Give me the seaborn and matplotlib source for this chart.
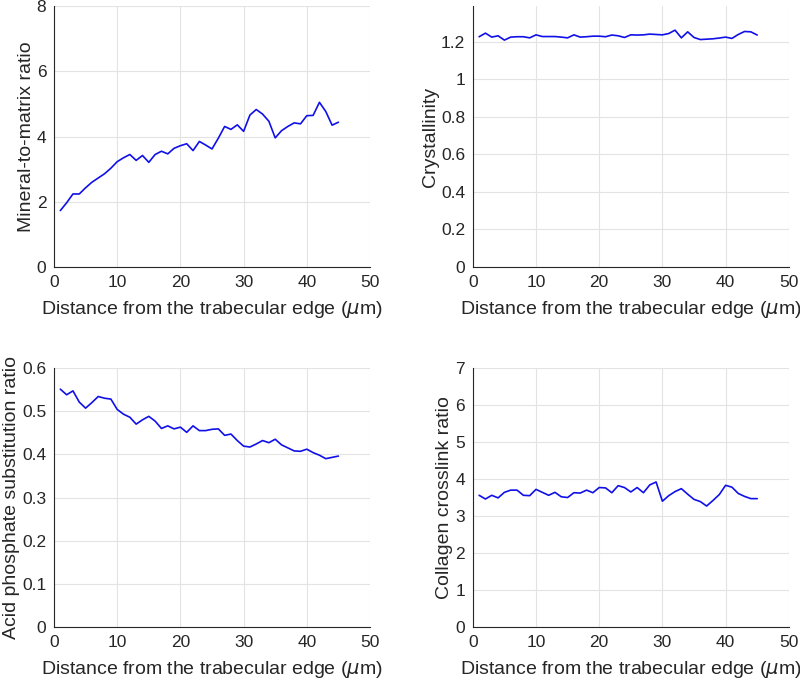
import numpy as np
import pandas as pd
import matplotlib
matplotlib.use("Agg")
import matplotlib.pyplot as plt
import seaborn as sns

# Distance from the trabecular edge (um), one value per micron
distance = list(range(1, 46))

mineral_to_matrix = [1.73, 1.97, 2.24, 2.24, 2.43, 2.60, 2.73, 2.86, 3.03, 3.23,
                     3.35, 3.45, 3.27, 3.42, 3.21, 3.45, 3.55, 3.47, 3.64, 3.72,
                     3.78, 3.57, 3.85, 3.74, 3.62, 3.95, 4.31, 4.22, 4.36, 4.16,
                     4.66, 4.83, 4.69, 4.47, 3.96, 4.18, 4.31, 4.42, 4.39, 4.64,
                     4.65, 5.05, 4.77, 4.35, 4.44]

crystallinity = [1.227, 1.246, 1.225, 1.232, 1.209, 1.225, 1.227, 1.227, 1.221, 1.237,
                 1.228, 1.228, 1.228, 1.225, 1.221, 1.237, 1.225, 1.227, 1.230, 1.230,
                 1.227, 1.236, 1.232, 1.223, 1.237, 1.236, 1.237, 1.241, 1.239, 1.237,
                 1.244, 1.262, 1.221, 1.253, 1.223, 1.212, 1.214, 1.216, 1.220, 1.225,
                 1.218, 1.239, 1.255, 1.253, 1.236]

acid_phosphate = [0.551, 0.538, 0.547, 0.521, 0.507, 0.520, 0.534, 0.530, 0.528, 0.504,
                  0.493, 0.486, 0.470, 0.480, 0.488, 0.477, 0.460, 0.466, 0.459, 0.463,
                  0.451, 0.466, 0.455, 0.455, 0.458, 0.459, 0.444, 0.447, 0.432, 0.419,
                  0.417, 0.424, 0.432, 0.427, 0.435, 0.422, 0.415, 0.408, 0.407, 0.412,
                  0.404, 0.398, 0.390, 0.393, 0.396]

collagen_crosslink = [3.56, 3.46, 3.56, 3.49, 3.64, 3.70, 3.70, 3.56, 3.55, 3.72,
                      3.64, 3.56, 3.64, 3.52, 3.50, 3.63, 3.62, 3.70, 3.63, 3.77,
                      3.76, 3.63, 3.82, 3.77, 3.65, 3.77, 3.63, 3.84, 3.92, 3.40,
                      3.55, 3.66, 3.74, 3.59, 3.45, 3.39, 3.27, 3.42, 3.58, 3.83,
                      3.78, 3.61, 3.53, 3.47, 3.47]

sns.set_style("whitegrid")
plt.rcParams["font.family"] = ["Liberation Sans", "DejaVu Sans"]
plt.rcParams["mathtext.fontset"] = "dejavusans"

fig = plt.figure(figsize=(8, 6.82), dpi=100)

# panel positions [left, bottom, width, height] in figure fraction
positions = [
    [0.0675, 0.6085, 0.395, 0.3825],
    [0.591, 0.6085, 0.395, 0.3825],
    [0.0675, 0.0806, 0.395, 0.3798],
    [0.591, 0.0806, 0.395, 0.3798],
]
series = [mineral_to_matrix, crystallinity, acid_phosphate, collagen_crosslink]
ylabels = ["Mineral-to-matrix ratio", "Crystallinity",
           "Acid phosphate substitution ratio", "Collagen crosslink ratio"]
ylims = [(0, 8), (0, 1.39), (0, 0.6), (0, 7)]
yticks = [np.arange(0, 8.1, 2), np.arange(0, 1.21, 0.2),
          np.arange(0, 0.61, 0.1), np.arange(0, 7.1, 1)]


def matlab_fmt(v):
    # MATLAB style tick labels: no trailing zeros
    s = f"{v:.1f}".rstrip("0").rstrip(".")
    return "0" if s in ("", "-0") else s


for pos, vals, ylab, ylim, yt in zip(positions, series, ylabels, ylims, yticks):
    ax = fig.add_axes(pos)
    df = pd.DataFrame({"distance": distance, "value": vals})
    sns.lineplot(data=df, x="distance", y="value", ax=ax, color="#1010e8", linewidth=1.2)

    ax.set_xlim(0, 50)
    ax.set_ylim(*ylim)
    ax.set_xticks(range(0, 51, 10))
    ax.set_yticks(yt)
    ax.set_yticklabels([matlab_fmt(v) for v in yt])
    ax.set_xlabel(r"Distance from the trabecular edge ($\mu$m)", fontsize=14,
                  color="#262626", labelpad=7)
    ax.set_ylabel(ylab, fontsize=14, color="#262626", labelpad=1.5)

    ax.grid(True, color="#e3e3e3", linewidth=0.8)
    for side in ("top", "right"):
        ax.spines[side].set_visible(False)
    for side in ("left", "bottom"):
        ax.spines[side].set_color("#262626")
        ax.spines[side].set_linewidth(0.8)
    ax.tick_params(direction="in", length=3, width=0.8, color="#262626",
                   labelsize=12.5, labelcolor="#262626", pad=5.5)

fig.savefig("out.png", dpi=100)
